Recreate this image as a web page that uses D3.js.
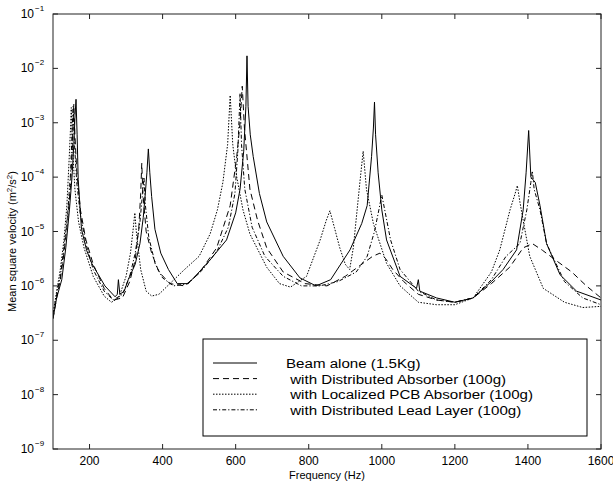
<!DOCTYPE html>
<html>
<head>
<meta charset="utf-8">
<script src="https://cdn.jsdelivr.net/npm/d3@7.9.0/dist/d3.min.js"></script>
<style>
  body { margin: 0; background: #fff; }
  svg text { font-family: "Liberation Sans", Arial, sans-serif; fill: #000; }
</style>
</head>
<body>
<svg id="chart" width="613" height="481"></svg>
<script>
// [frequency Hz, mean square velocity]
const beamAlone = [
  [100, 2.5e-7], [110, 6e-7], [124, 1.3e-6], [135, 5e-6], [145, 2.5e-5], [152, 1e-4],
  [157, 4e-4], [160, 1.2e-3], [163, 2.7e-3], [166, 6e-4], [169, 9e-5], [178, 1.1e-5],
  [192, 4.5e-6], [206, 2.6e-6], [242, 1e-6], [270, 6.3e-7], [276, 7e-7], [279, 1.3e-6],
  [283, 7e-7], [295, 8e-7], [306, 1.3e-6], [325, 2.5e-6], [338, 6e-6], [347, 1.8e-5],
  [352, 4.4e-5], [357, 1.2e-4], [361, 3.3e-4], [365, 1.2e-4], [370, 4.4e-5], [379, 1.1e-5],
  [395, 4e-6], [416, 2e-6], [440, 1.1e-6], [470, 1.1e-6], [500, 1.8e-6], [530, 3e-6],
  [575, 7e-6], [600, 2.2e-5], [612, 6e-5], [622, 3e-4], [628, 2e-3], [631, 1.7e-2],
  [634, 2e-3], [640, 6e-4], [648, 2.4e-4], [665, 5e-5], [685, 1.5e-5], [730, 3.5e-6],
  [776, 1.4e-6], [820, 1e-6], [860, 1.3e-6], [913, 4.6e-6], [945, 1.4e-5], [960, 3e-5],
  [972, 2.4e-4], [977, 8e-4], [980, 2.4e-3], [983, 6e-4], [990, 1.2e-4], [1000, 2.5e-5],
  [1013, 7e-6], [1050, 1.5e-6], [1095, 9e-7], [1100, 1.3e-6], [1104, 8e-7], [1150, 6e-7],
  [1200, 5e-7], [1250, 6e-7], [1300, 1.2e-6], [1332, 2e-6], [1369, 4.6e-6], [1387, 2.5e-5],
  [1395, 1.2e-4], [1402, 7.2e-4], [1408, 1e-4], [1420, 8e-5], [1433, 3e-5], [1451, 6e-6],
  [1488, 1.6e-6], [1533, 8e-7], [1600, 5.5e-7]
];
const distAbsorber = [
  [100, 2.5e-7], [110, 6e-7], [120, 1.3e-6], [130, 4e-6], [140, 1.6e-5], [148, 7e-5],
  [153, 4e-4], [157, 2.2e-3], [160, 6e-4], [165, 1.3e-4], [175, 2.5e-5], [190, 7e-6],
  [210, 2.5e-6], [240, 9e-7], [265, 5.5e-7], [290, 6e-7], [310, 1.2e-6], [325, 3e-6],
  [335, 1.2e-5], [340, 5e-5], [343, 1.8e-4], [346, 5e-5], [355, 1e-5], [370, 4e-6],
  [390, 1.8e-6], [420, 1.1e-6], [460, 1e-6], [500, 1.7e-6], [548, 5e-6], [585, 3e-5],
  [603, 2.4e-4], [612, 1e-3], [618, 4.7e-3], [624, 8e-4], [639, 6e-5], [660, 1.6e-5],
  [685, 5e-6], [730, 1.8e-6], [790, 1.1e-6], [850, 1e-6], [900, 1.5e-6], [945, 2.5e-6],
  [975, 3.5e-6], [995, 4e-6], [1010, 3.2e-6], [1030, 2e-6], [1060, 1.2e-6], [1100, 7e-7],
  [1150, 5.5e-7], [1200, 5e-7], [1250, 6e-7], [1300, 1.1e-6], [1350, 2.2e-6], [1387, 5e-6],
  [1412, 6e-6], [1440, 4.5e-6], [1475, 3e-6], [1520, 1.8e-6], [1560, 1e-6], [1600, 6e-7]
];
const pcbAbsorber = [
  [100, 3e-7], [110, 8e-7], [120, 2e-6], [130, 7e-6], [138, 3e-5], [144, 2e-4],
  [148, 8e-4], [150, 1.9e-3], [153, 4e-4], [160, 6e-5], [170, 1.5e-5], [185, 5e-6],
  [210, 1.5e-6], [240, 6.5e-7], [260, 5e-7], [280, 6e-7], [300, 1.5e-6], [312, 4e-6],
  [320, 1.2e-5], [324, 2.2e-5], [328, 1e-5], [340, 2e-6], [355, 8e-7], [370, 6.5e-7],
  [390, 7e-7], [420, 1.1e-6], [460, 2e-6], [500, 3.5e-6], [530, 9e-6], [550, 2.5e-5],
  [565, 8e-5], [578, 4e-4], [585, 3.2e-3], [592, 4e-4], [603, 1e-4], [620, 2.5e-5],
  [639, 9e-6], [685, 2.2e-6], [720, 1.1e-6], [750, 9.5e-7], [794, 1.5e-6], [831, 6.9e-6],
  [848, 1.6e-5], [858, 2.4e-5], [870, 1.2e-5], [885, 5e-6], [900, 2.5e-6], [912, 2e-6],
  [922, 5e-6], [931, 2e-5], [940, 8e-5], [949, 3e-4], [958, 6e-5], [977, 1.4e-5],
  [1013, 2.6e-6], [1050, 1e-6], [1100, 5e-7], [1150, 4.5e-7], [1200, 4.5e-7], [1250, 6e-7],
  [1300, 1.8e-6], [1323, 4.6e-6], [1351, 2.5e-5], [1365, 5e-5], [1371, 7e-5], [1378, 3.5e-5],
  [1387, 1.6e-5], [1405, 3.5e-6], [1442, 9e-7], [1500, 5e-7], [1550, 4e-7], [1600, 4.2e-7]
];
const leadLayer = [
  [100, 3e-7], [110, 7e-7], [120, 1.5e-6], [130, 5e-6], [140, 2e-5], [148, 1.2e-4],
  [152, 6e-4], [155, 2e-3], [158, 5e-4], [165, 8e-5], [175, 2e-5], [190, 6e-6],
  [210, 2e-6], [240, 8e-7], [265, 5.5e-7], [290, 7e-7], [310, 1.5e-6], [325, 4e-6],
  [338, 1.5e-5], [345, 5e-5], [349, 1e-4], [353, 3e-5], [362, 8e-6], [380, 2.5e-6],
  [400, 1.4e-6], [430, 1e-6], [470, 1.1e-6], [510, 2e-6], [550, 4.5e-6], [580, 1.2e-5],
  [598, 5e-5], [606, 3e-4], [612, 3.5e-3], [616, 4e-4], [625, 6e-5], [645, 1.2e-5],
  [680, 3.5e-6], [730, 1.5e-6], [780, 1e-6], [830, 1e-6], [880, 1.2e-6], [930, 1.8e-6],
  [960, 3.5e-6], [980, 1e-5], [992, 2.5e-5], [1000, 4.7e-5], [1008, 2.5e-5], [1024, 7e-6],
  [1050, 2e-6], [1100, 8e-7], [1150, 5.5e-7], [1200, 5e-7], [1250, 6e-7], [1300, 1.3e-6],
  [1340, 3.5e-6], [1378, 6e-6], [1397, 2.5e-5], [1408, 8e-5], [1412, 1.3e-4], [1417, 6e-5],
  [1433, 2.5e-5], [1451, 6e-6], [1500, 1.2e-6], [1550, 6e-7], [1600, 4.5e-7]
];

const xTicks = [200, 400, 600, 800, 1000, 1200, 1400, 1600];
const yExponents = [-1, -2, -3, -4, -5, -6, -7, -8, -9];
const legendLabels = [
  "Beam alone (1.5Kg)",
  " with Distributed Absorber (100g)",
  " with Localized PCB Absorber (100g)",
  " with Distributed Lead Layer (100g)"
];
const dashStyles = [null, "6,4", "1.5,1.5", "4,2,1.2,2"];

const margin = { top: 14, right: 12, bottom: 32, left: 53 };
const W = 613, H = 481;
const iw = W - margin.left - margin.right;
const ih = H - margin.top - margin.bottom;

const svg = d3.select("#chart");
const g = svg.append("g").attr("transform", `translate(${margin.left},${margin.top})`);

const x = d3.scaleLinear().domain([100, 1600]).range([0, iw]);
const y = d3.scaleLog().domain([1e-9, 1e-1]).range([ih, 0]);

g.append("clipPath").attr("id", "clip")
  .append("rect").attr("width", iw).attr("height", ih);

const line = d3.line().x(d => x(d[0])).y(d => y(d[1]));

[beamAlone, distAbsorber, pcbAbsorber, leadLayer].forEach((s, i) => {
  g.append("path")
    .attr("clip-path", "url(#clip)")
    .attr("d", line(s))
    .attr("fill", "none")
    .attr("stroke", "#000")
    .attr("stroke-width", 1)
    .attr("stroke-dasharray", dashStyles[i]);
});

// frame with inward ticks
const tickLen = 5;
g.append("rect").attr("width", iw).attr("height", ih)
  .attr("fill", "none").attr("stroke", "#222").attr("stroke-width", 1);

xTicks.forEach(t => {
  g.append("line").attr("x1", x(t)).attr("x2", x(t)).attr("y1", ih).attr("y2", ih - tickLen).attr("stroke", "#222");
  g.append("line").attr("x1", x(t)).attr("x2", x(t)).attr("y1", 0).attr("y2", tickLen).attr("stroke", "#222");
  g.append("text").attr("x", x(t)).attr("y", ih + 16).attr("text-anchor", "middle")
    .attr("font-size", 12).text(t);
});

yExponents.forEach(e => {
  const yy = y(Math.pow(10, e));
  g.append("line").attr("x1", 0).attr("x2", tickLen).attr("y1", yy).attr("y2", yy).attr("stroke", "#222");
  g.append("line").attr("x1", iw).attr("x2", iw - tickLen).attr("y1", yy).attr("y2", yy).attr("stroke", "#222");
  g.append("text").attr("x", -19).attr("y", yy + 4).attr("text-anchor", "end").attr("font-size", 12).text("10");
  g.append("text").attr("x", -18).attr("y", yy - 3).attr("font-size", 8).text("\u2212" + Math.abs(e));
});

g.append("text").attr("x", iw / 2).attr("y", ih + 30).attr("text-anchor", "middle")
  .attr("font-size", 11).text("Frequency (Hz)");

const yl = g.append("text")
  .attr("transform", `translate(-37,${ih / 2 + 10}) rotate(-90)`)
  .attr("text-anchor", "middle").attr("font-size", 11);
yl.append("tspan").text("Mean square velocity (m");
yl.append("tspan").attr("font-size", 8).attr("dy", -4).text("2");
yl.append("tspan").attr("dy", 4).text("/s");
yl.append("tspan").attr("font-size", 8).attr("dy", -4).text("2");
yl.append("tspan").attr("dy", 4).text(")");

// legend
const lg = svg.append("g").attr("transform", "translate(203,339)");
lg.append("rect").attr("width", 384).attr("height", 97)
  .attr("fill", "#fff").attr("stroke", "#000").attr("stroke-width", 1);
legendLabels.forEach((lab, i) => {
  const yy = 24 + i * 15.6;
  lg.append("line").attr("x1", 10).attr("x2", 54).attr("y1", yy).attr("y2", yy)
    .attr("stroke", "#000").attr("stroke-width", 1).attr("stroke-dasharray", dashStyles[i]);
  lg.append("text")
    .attr("transform", `translate(83,${yy + 5}) scale(1.12,1)`)
    .attr("font-size", 13.5)
    .style("white-space", "pre").text(lab);
});
</script>
</body>
</html>
